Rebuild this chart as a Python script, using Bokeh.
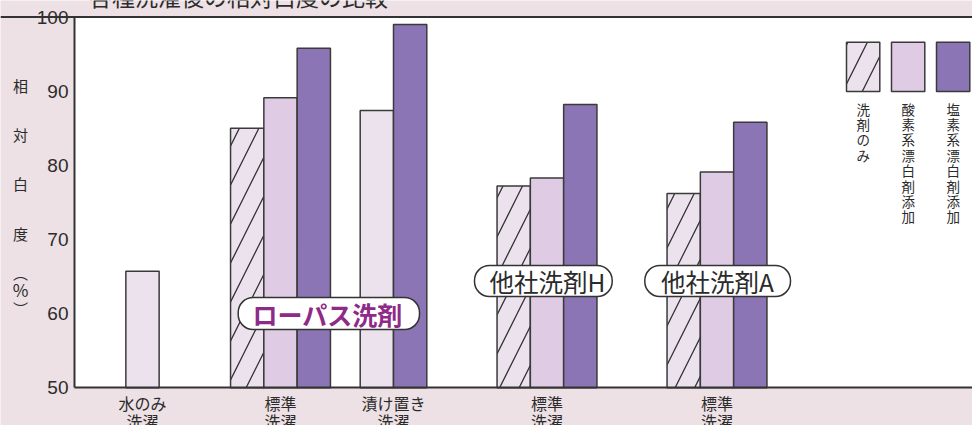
from bokeh.plotting import figure
from bokeh.models import Range1d, FixedTicker, Label, Span, BoxAnnotation, ColumnDataSource
from bokeh.embed import file_html
from bokeh.resources import INLINE

# ---------------- data ----------------
title = "各種洗濯後の相対白度の比較"
categories = ["水のみ\n洗濯", "標準\n洗濯", "漬け置き\n洗濯", "標準\n洗濯", "標準\n洗濯"]
series_names = ["洗剤のみ", "酸素系漂白剤添加", "塩素系漂白剤添加"]
no_additive = [65.7, None, 87.4, None, None]
detergent_only = [None, 85.0, None, 77.2, 76.2]
oxygen_bleach = [None, 89.1, None, 78.3, 79.1]
chlorine_bleach = [None, 95.8, 99.0, 88.2, 85.8]
brand_labels = ["ローパス洗剤", "他社洗剤H", "他社洗剤A"]
y_ticks = [50, 60, 70, 80, 90, 100]
y_label_chars = ["相", "対", "白", "度", "︵", "%", "︶"]

# ---------------- layout / style ----------------
group_x = [68, 206, 319, 472.5, 642.5]
bar_w = 33.3
LIGHT = "#EBE2EE"
MID = "#DFCCE4"
DARK = "#8B75B5"
EDGE = "#3a3a3a"
TXT = "#2b2b2b"
PINK = "#EDE1E5"
JP = "Noto Sans CJK JP"
PX = 7.416  # pixels per % unit

def ix(px):  # picture x -> data x
    return px - 74

def iy(py):  # picture y -> data y
    return 100 - (py - 16.5) / PX

p = figure(width=972, height=425, x_range=Range1d(ix(0), ix(972)), y_range=Range1d(iy(425), iy(0)),
           output_backend="svg", toolbar_location=None, min_border=0)
p.border_fill_color = PINK
p.background_fill_color = PINK
p.outline_line_color = None
p.grid.visible = False

# white plot area
p.add_layout(BoxAnnotation(left=0, bottom=50, top=100, fill_color="white", fill_alpha=1,
                           line_color=None, level="underlay"))

# bars
styles = [
    dict(fill_color=LIGHT),
    dict(fill_color=LIGHT, hatch_pattern="/", hatch_color="#333333", hatch_weight=1.3, hatch_scale=39),
    dict(fill_color=MID),
    dict(fill_color=DARK),
]
all_series = [no_additive, detergent_only, oxygen_bleach, chlorine_bleach]
xs = [[] for _ in all_series]
tops = [[] for _ in all_series]
for g, cx in enumerate(group_x):
    present = [k for k, s in enumerate(all_series) if s[g] is not None]
    n = len(present)
    for i, k in enumerate(present):
        xs[k].append(cx + (i - (n - 1) / 2) * bar_w)
        tops[k].append(all_series[k][g])
for k in range(len(all_series)):
    src = ColumnDataSource(dict(x=xs[k], top=tops[k]))
    p.vbar(x="x", top="top", bottom=50, width=bar_w, source=src,
           line_color=EDGE, line_width=1.5, **styles[k])

# legend swatches
leg_left = [ix(846), ix(891), ix(936)]
leg_top, leg_bottom = iy(41.7), iy(91)
for i, st in enumerate(styles[1:]):
    p.quad(left=[leg_left[i]], right=[leg_left[i] + bar_w], top=[leg_top], bottom=[leg_bottom],
           line_color=EDGE, line_width=1.5, **st)
    p.add_layout(Label(x=leg_left[i] + bar_w / 2, y=iy(98), text="\n".join(series_names[i]),
                       text_align="center", text_baseline="top", text_font=JP,
                       text_font_size="13.5px", text_line_height=0.77, text_color=TXT))

# top border
p.add_layout(Span(location=100, dimension="width", line_color="#333333", line_width=2))

# axes drawn at fixed locations
p.yaxis.fixed_location = 0
p.yaxis.bounds = (50, 100)
p.yaxis.ticker = FixedTicker(ticks=y_ticks)
p.yaxis.major_label_text_font = "Liberation Sans"
p.yaxis.major_label_text_font_size = "19px"
p.yaxis.major_label_text_color = TXT
p.yaxis.major_tick_line_color = None
p.yaxis.minor_tick_line_color = None
p.yaxis.major_tick_out = 0
p.yaxis.major_tick_in = 0
p.yaxis.major_label_standoff = 6
p.yaxis.axis_line_width = 2
p.yaxis.axis_line_color = "#333333"

p.xaxis.fixed_location = 50
p.xaxis.bounds = (0, ix(972))
p.xaxis.ticker = FixedTicker(ticks=group_x)
p.xaxis.major_label_overrides = {x: c for x, c in zip(group_x, categories)}
p.xaxis.major_label_text_font = JP
p.xaxis.major_label_text_font_size = "16px"
p.xaxis.major_label_text_line_height = 0.77
p.xaxis.major_label_text_color = TXT
p.xaxis.major_tick_line_color = None
p.xaxis.minor_tick_line_color = None
p.xaxis.major_tick_out = 0
p.xaxis.major_tick_in = 0
p.xaxis.major_label_standoff = 3
p.xaxis.axis_line_width = 2
p.xaxis.axis_line_color = "#333333"

# y axis title, stacked characters
y_char_pos = [85, 134, 183, 233, 272, 289, 308]
y_char_size = ["15px", "15px", "15px", "15px", "15px", "17px", "15px"]
for ch, py, fs in zip(y_label_chars, y_char_pos, y_char_size):
    p.add_layout(Label(x=ix(20), y=iy(py), text=ch, text_align="center", text_baseline="middle",
                       text_font=JP, text_font_size=fs, text_color=TXT))

# title (partly cut by the top edge, as in the picture)
p.add_layout(Label(x=ix(238), y=iy(-4.5), text=title, text_align="center", text_baseline="alphabetic",
                   text_font=JP, text_font_size="23px", text_color=TXT))

# brand labels: pill boxes + text
boxes = [(237.7, 419, 297, 329), (474, 611.7, 265, 296), (644.3, 790, 265, 296)]
for (l, r, t, b) in boxes:
    p.add_layout(BoxAnnotation(left=ix(l), right=ix(r), top=iy(t), bottom=iy(b),
                               fill_color="white", fill_alpha=1, line_color="#333333",
                               line_alpha=1, line_width=1.5, border_radius=15))
p.add_layout(Label(x=ix(327), y=iy(313), text=brand_labels[0], text_align="center",
                   text_baseline="middle", text_font=JP, text_font_style="bold",
                   text_font_size="25px", text_color="#8E2A88"))
for name, cx in zip(brand_labels[1:], [547, 717]):
    p.add_layout(Label(x=ix(cx), y=iy(281), text=name, text_align="center",
                       text_baseline="middle", text_font=JP,
                       text_font_size="24.5px", text_color=TXT))

open("out.html", "w").write(file_html(p, INLINE))
